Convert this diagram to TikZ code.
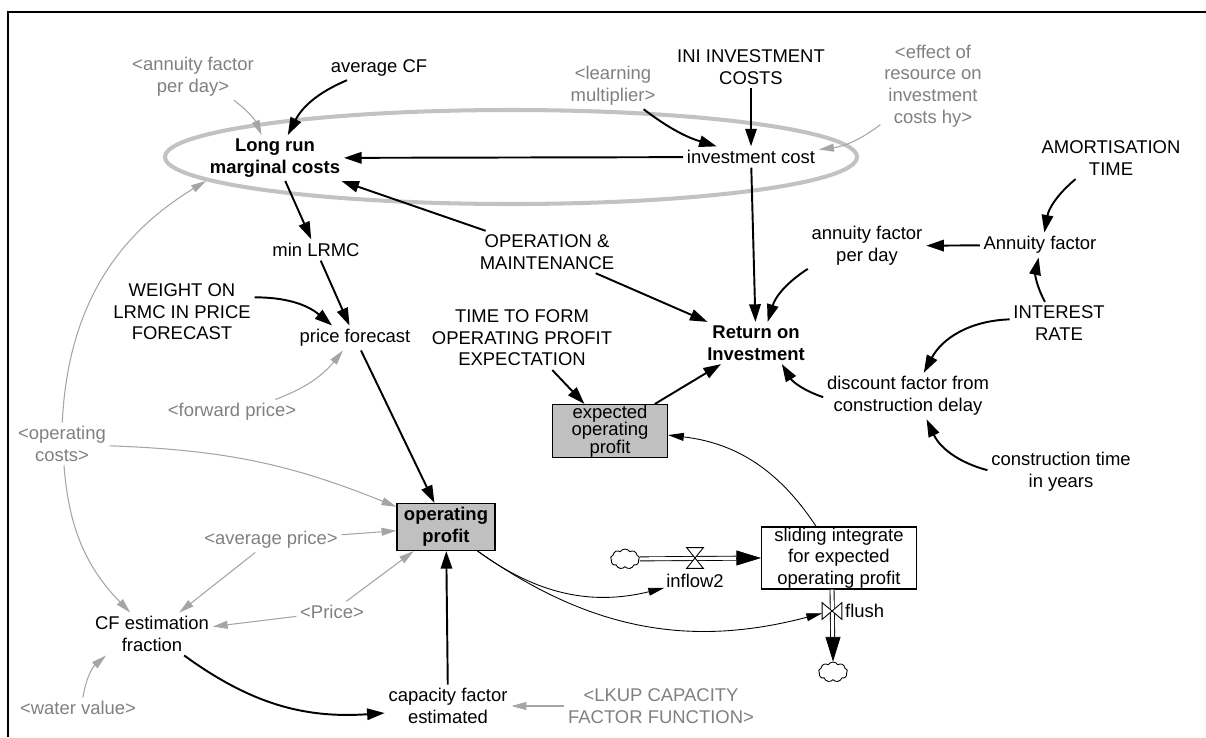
\documentclass[tikz,border=0pt]{standalone}
\usepackage{fontspec}
\setmainfont{Liberation Sans}
\usetikzlibrary{arrows.meta,shapes.symbols}
\definecolor{shadowtext}{RGB}{128,128,128}
\definecolor{shadowline}{RGB}{165,165,165}
\definecolor{loopgray}{RGB}{194,194,194}
\definecolor{boxgray}{RGB}{192,192,192}
\newcommand\tightlines{\fontsize{10.5}{10}\selectfont\lineskiplimit=-20pt\relax}

\begin{document}
\begin{tikzpicture}[x=0.02cm,y=0.02cm,
  font=\fontsize{10.5}{12.3}\selectfont,
  var/.style={align=center,inner sep=2pt},
  shadow/.style={var,text=shadowtext},
  level/.style={draw,fill=boxgray,align=center,inner sep=0pt,line width=0.6pt},
  link/.style={line width=1.1pt,-{Triangle[length=10pt,width=6.5pt]}},
  glink/.style={shadowline,line width=0.6pt,-{Triangle[length=8.5pt,width=4.5pt]}},
  ilink/.style={line width=0.5pt,-{Triangle[length=9pt,width=4.5pt]}},
  pipe/.style={double,double distance=1.8pt,line width=0.5pt},
  flowhead/.style={-{Triangle[length=14pt,width=8.5pt]}},
  cloudy/.style={cloud,draw,cloud puffs=9,cloud puff arc=120,aspect=1.4,inner sep=0pt,
    minimum width=0.58cm,minimum height=0.4cm,line width=0.5pt},
  valve/.style={inner sep=0pt,minimum width=#1}]
\useasboundingbox (0,0) rectangle (1206,-737);
\draw[line width=0.05cm] (8,-737) -- (8,-12) -- (1206,-12);
\draw[loopgray,line width=2.3pt] (511,-157) ellipse [x radius=346,y radius=47];

\node[shadow] (afpdS) at (193,-77) {<annuity factor\\per day>};
\node[var] (avgcf) at (379,-68) {average CF};
\node[var,font=\fontsize{10.5}{12.3}\selectfont\bfseries] (lrmc) at (275,-158) {Long run\\marginal costs};
\node[shadow] (learn) at (613,-86) {<learning\\multiplier>};
\node[var] (ini) at (751,-67) {INI INVESTMENT\\COSTS};
\node[var] (invcost) at (751,-157) {investment cost};
\node[shadow] (effect) at (933,-86) {<effect of\\resource on\\investment\\costs hy>};
\node[var] (amort) at (1111,-158) {AMORTISATION\\TIME};
\node[var] (annf) at (1040,-245) {Annuity factor};
\node[var] (afpd) at (867,-246) {annuity factor\\per day};
\node[var] (rate) at (1059,-323) {INTEREST\\RATE};
\node[var] (disc) at (908,-396) {discount factor from\\construction delay};
\node[var] (ctime) at (1061,-472) {construction time\\in years};
\node[var,font=\fontsize{10.5}{12.3}\selectfont\bfseries] (roi) at (756,-343) {Return on\\Investment};
\node[var] (om) at (547,-252) {OPERATION \&\\MAINTENANCE};
\node[var] (ttf) at (522,-338) {TIME TO FORM\\OPERATING PROFIT\\EXPECTATION};
\node[level,minimum width=2.3cm,minimum height=1.06cm,font=\tightlines] (expop) at (610,-431) {expected\\operating\\profit};
\node[var] (minl) at (316,-250) {min LRMC};
\node[var] (weight) at (182,-312) {WEIGHT ON\\LRMC IN PRICE\\FORECAST};
\node[var] (pfc) at (355,-338) {price forecast};
\node[shadow] (fwd) at (232,-412) {<forward price>};
\node[shadow] (opc) at (62,-444) {<operating\\costs>};
\node[level,minimum width=1.96cm,minimum height=0.94cm,font=\fontsize{10.5}{12.3}\selectfont\bfseries] (opp) at (446,-527) {operating\\profit};
\node[shadow] (avgp) at (271,-540) {<average price>};
\node[shadow] (price) at (332,-612) {<Price>};
\node[var] (cfe) at (152,-634) {CF estimation\\fraction};
\node[shadow] (water) at (78,-708) {<water value>};
\node[var] (capf) at (448,-706) {capacity factor\\estimated};
\node[shadow] (lkup) at (661,-706) {<LKUP CAPACITY\\FACTOR FUNCTION>};

% stock and flows
\node[level,fill=white,minimum width=3.1cm,minimum height=1.24cm] (slide) at (839,-558) {sliding integrate\\for expected\\operating profit};
\node[cloudy] (src) at (625,-559) {};
\node[cloudy] (sink) at (833,-672) {};
\node[valve=0.32cm,minimum height=0.4cm] (v1) at (695,-558) {};
\node[var,inner sep=1pt] (infl) at (695,-581) {inflow2};
\node[valve=0.38cm,minimum height=0.32cm] (v2) at (832,-611) {};
\node[var,inner sep=1pt,anchor=west] (flush) at (843,-611) {flush};

\path[draw,pipe,shorten >=14pt] (src) -- (slide.west);
\path[draw,flowhead] ([xshift=-14pt]slide.west) -- (slide.west);
\path[draw,pipe,shorten >=14pt] (v2 |- slide.south) -- (sink.north);
\path[draw,flowhead] ([yshift=14pt]sink.north) -- (sink.north);
\draw[fill=white,line width=0.5pt] (v1.north west) -- (v1.north east) -- (v1.south west) -- (v1.south east) -- cycle;
\draw[fill=white,line width=0.5pt] (v2.north west) -- (v2.south west) -- (v2.north east) -- (v2.south east) -- cycle;

% black links
\path[draw,link] (avgcf) edge [bend right=20] (lrmc);
\path[draw,link] (invcost) -- (lrmc);
\path[draw,link] (om) -- (lrmc);
\path[draw,link] (lrmc) -- (minl);
\path[draw,link] (learn) edge [bend right=10] (invcost);
\path[draw,link] (ini) -- (invcost);
\path[draw,link] (invcost) -- (roi);
\path[draw,link] (amort) edge [bend right=20] (annf);
\path[draw,link] (annf) -- (afpd);
\path[draw,link] (afpd) edge [bend right=20] (roi);
\path[draw,link] (om) -- (roi);
\path[draw,link] (rate) edge [bend left=20] (annf);
\path[draw,link] (rate) edge [bend right=30] (disc);
\path[draw,link] (disc) edge [bend left=20] (roi);
\path[draw,link] (ctime) edge [bend left=25] (disc);
\path[draw,link] (ttf) -- (expop);
\path[draw,link] (expop) -- (roi);
\path[draw,link] (minl) -- (pfc);
\path[draw,link] (weight) edge [bend left=20] (pfc);
\path[draw,link] (pfc) -- (opp);
\path[draw,link] (cfe) edge [bend right=20] (capf);
\path[draw,link] (capf) -- (opp);

% thin links
\path[draw,ilink] (slide) edge [bend right=25] (expop);
\path[draw,ilink] (opp) edge [bend right=25] (infl);
\path[draw,ilink] (opp) edge [bend right=25] (v2);

% shadow links
\path[draw,glink] (afpdS) edge [bend left=15] (lrmc);
\path[draw,glink] (opc) edge [bend left=28] (lrmc.south west);
\path[draw,glink] (effect) edge [bend left=15] (invcost);
\path[draw,glink] (fwd) edge [bend right=15] (pfc);
\path[draw,glink] (opc) edge [bend left=10] (opp);
\path[draw,glink] (opc) edge [bend right=20] (cfe);
\path[draw,glink] (avgp) -- (opp);
\path[draw,glink] (avgp) -- (cfe);
\path[draw,glink] (price) -- (opp);
\path[draw,glink] (price) -- (cfe);
\path[draw,glink] (water) edge [bend left=20] (cfe);
\path[draw,glink] (lkup) -- (capf);
\end{tikzpicture}
\end{document}
